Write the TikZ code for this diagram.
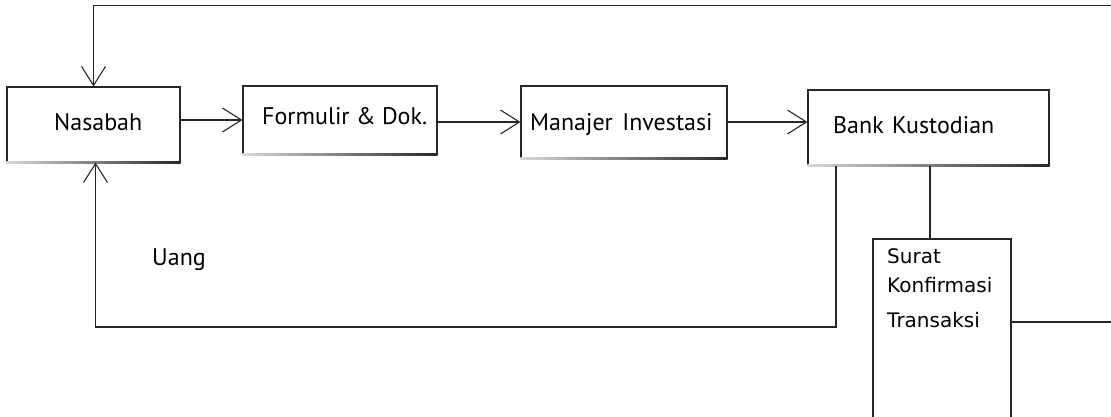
\documentclass[tikz,border=0pt]{standalone}
\usepackage{fontspec}
\setmainfont{PT Sans}
\newfontfamily\notefont{DejaVu Sans}
\usetikzlibrary{arrows.meta}
\tikzset{
  box/.style={draw=black!85, line width=1.1pt, inner sep=0pt},
  lbl/.style={font=\fontsize{24}{28}\selectfont, inner sep=0pt, anchor=base west},
  note/.style={font=\notefont\fontsize{20}{24}\selectfont, inner sep=0pt, anchor=base west},
  link/.style={draw=black!85, line width=1.1pt},
  arr/.style={link, -{Straight Barb[length=19pt, width=24pt, line width=1.1pt]}}
}
\begin{document}
\begin{tikzpicture}[x=1pt, y=-1pt]
\useasboundingbox (0,0) rectangle (1111,416);
\clip (0,0) rectangle (1111,416);

% boxes of the main chain
\node[box, minimum width=173, minimum height=75] (nas)  at (93.5,124.5) {};
\node[box, minimum width=194, minimum height=68] (form) at (340,120)    {};
\node[box, minimum width=206, minimum height=72] (man)  at (624,122)    {};
\node[box, minimum width=241, minimum height=75] (bank) at (928.5,127.5){};
\node[box, minimum width=138, minimum height=201] (surat) at (942,339.5) {};

% soft lower edges of the boxes
\foreach \n in {nas,form,man,bank}{
  \shade[left color=black!15, right color=black!85]
    ([yshift=-0.6pt]\n.south west) rectangle ([yshift=0.6pt]\n.south east);
}

% labels
\node[lbl] (nasT)  at (54,130)  {Nasabah};
\node[lbl] (formT) at (262,124) {Formulir \& Dok.};
\node[lbl] (manT)  at (530,130) {Manajer\hspace{3pt} Investasi};
\node[lbl] (bankT) at (833,133) {Bank\hspace{2pt} Kustodian};
\node[lbl] (uang)  at (152,265) {Uang};
\node[note] (suratA) at (887,263) {Surat};
\node[note] (suratB) at (887,292) {Konfirmasi};
\node[note] (suratC) at (887,327) {Transaksi};

% forward flow
\draw[arr] (form.west -| nas.east) -- (form.west);
\draw[arr] (man.west -| form.east) -- (man.west);
\draw[arr] (man.east) -- (man.east -| bank.west);

% return loops
\coordinate (topR) at (1111,5.5);
\draw[arr] (topR) -| (nas.north);
\coordinate (uTurn) at (836,327);
\coordinate (uUp) at (95.5,0);
\draw[arr] (uTurn |- bank.south) -- (uTurn) -- (uTurn -| uUp) -- (uUp |- nas.south);

% confirmation letter
\coordinate (cDrop) at (930,0);
\draw[link] (cDrop |- bank.south) -- (cDrop |- surat.north);
\coordinate (rEnd) at (1111,322);
\draw[link] (surat.east |- rEnd) -- (rEnd);
\end{tikzpicture}
\end{document}
